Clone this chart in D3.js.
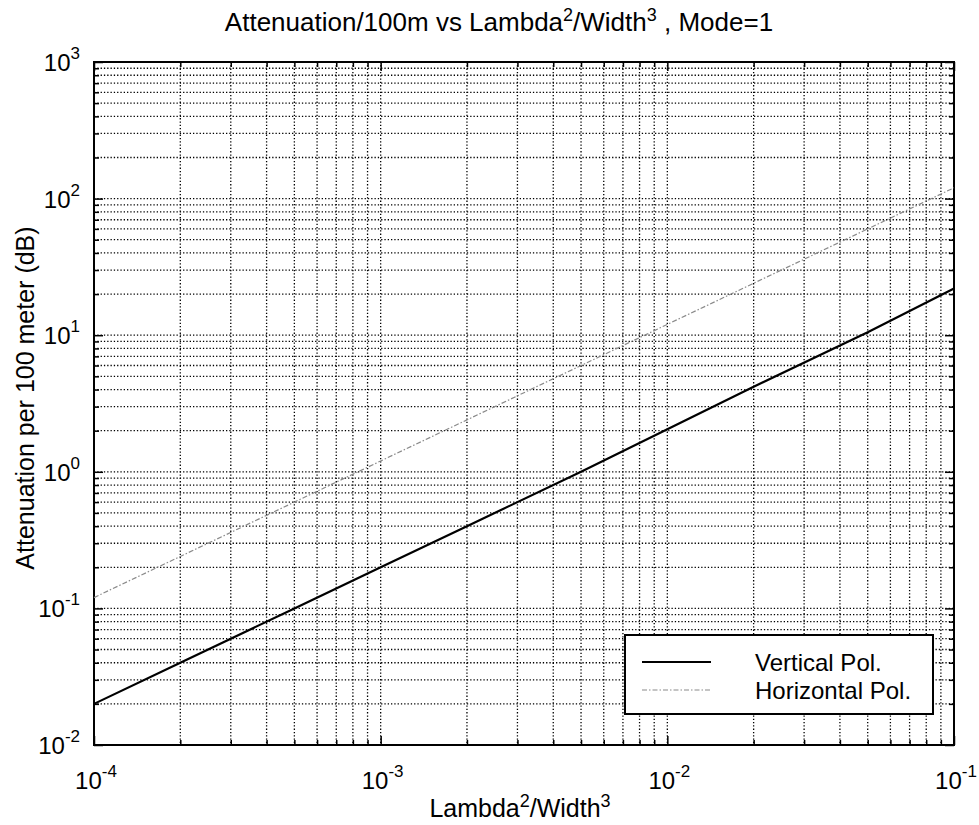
<!DOCTYPE html>
<html><head><meta charset="utf-8">
<script src="https://cdn.jsdelivr.net/npm/d3@7"></script>
<style>
html,body{margin:0;padding:0;background:#fff;}
svg{display:block;font-family:"Liberation Sans",Arial,Helvetica,sans-serif;}
</style></head>
<body><svg id="c" width="979" height="825"></svg>
<script>
// ---- data ----
const xValues = [1e-4, 2e-4, 5e-4, 1e-3, 2e-3, 5e-3, 1e-2, 2e-2, 5e-2, 1e-1];
const verticalPol = [0.02, 0.04, 0.1, 0.2, 0.4, 1.0, 2.05, 4.2, 10.5, 22];
const horizontalPol = [0.12, 0.24, 0.6, 1.2, 2.4, 6.0, 12, 24, 60, 120];
const xTickExponents = [-4, -3, -2, -1];
const yTickExponents = [-2, -1, 0, 1, 2, 3];
const seriesNames = ["Vertical Pol.", "Horizontal Pol."];
const titleParts = ["Attenuation/100m vs Lambda", "2", "/Width", "3", " , Mode=1"];
const xLabelParts = ["Lambda", "2", "/Width", "3"];
const yLabel = "Attenuation per 100 meter (dB)";

// ---- layout ----
const svg = d3.select("#c");
const L = 94, R = 954, T = 62, B = 745;
const x = d3.scaleLog().domain([1e-4, 1e-1]).range([L, R]);
const y = d3.scaleLog().domain([1e-2, 1e3]).range([B, T]);

// minor values
const minorX = [], minorY = [];
for (let e = -4; e < -1; e++) for (let m = 2; m <= 9; m++) minorX.push(m * Math.pow(10, e));
for (let e = -2; e < 3; e++) for (let m = 2; m <= 9; m++) minorY.push(m * Math.pow(10, e));
const majorX = xTickExponents.map(e => Math.pow(10, e));
const majorY = yTickExponents.map(e => Math.pow(10, e));

// grid
const grid = svg.append("g").attr("stroke", "#000").attr("stroke-width", 1.3)
  .attr("stroke-dasharray", "1.3,2").attr("fill", "none");
[...majorX.slice(1, -1), ...minorX].forEach(v => {
  grid.append("line").attr("x1", x(v)).attr("x2", x(v)).attr("y1", T).attr("y2", B);
});
[...majorY.slice(1, -1), ...minorY].forEach(v => {
  grid.append("line").attr("y1", y(v)).attr("y2", y(v)).attr("x1", L).attr("x2", R);
});

// axes (ticks inside, on all four sides) via d3 axes
function addAxis(axisGen, tx, ty) {
  const g = svg.append("g").attr("transform", `translate(${tx},${ty})`).call(axisGen);
  g.select(".domain").remove();
  g.selectAll("text").remove();
  g.selectAll("line").attr("stroke", "#000").attr("stroke-width", 1.5);
  return g;
}
addAxis(d3.axisBottom(x).tickValues(majorX).tickSizeInner(-9).tickSizeOuter(0), 0, B);
addAxis(d3.axisBottom(x).tickValues(minorX).tickSizeInner(-5).tickSizeOuter(0), 0, B);
addAxis(d3.axisTop(x).tickValues(majorX).tickSizeInner(-9).tickSizeOuter(0), 0, T);
addAxis(d3.axisTop(x).tickValues(minorX).tickSizeInner(-5).tickSizeOuter(0), 0, T);
addAxis(d3.axisLeft(y).tickValues(majorY).tickSizeInner(-9).tickSizeOuter(0), L, 0);
addAxis(d3.axisLeft(y).tickValues(minorY).tickSizeInner(-5).tickSizeOuter(0), L, 0);
addAxis(d3.axisRight(y).tickValues(majorY).tickSizeInner(-9).tickSizeOuter(0), R, 0);
addAxis(d3.axisRight(y).tickValues(minorY).tickSizeInner(-5).tickSizeOuter(0), R, 0);

// frame
svg.append("rect").attr("x", L).attr("y", T).attr("width", R - L).attr("height", B - T)
  .attr("fill", "none").attr("stroke", "#000").attr("stroke-width", 2);

// tick labels
function powLabel(g, base, exp, bs, es, raise) {
  g.append("tspan").text(base).attr("font-size", bs);
  g.append("tspan").text(exp).attr("font-size", es).attr("dy", -raise);
}
xTickExponents.forEach(e => {
  const t = svg.append("text").attr("x", x(Math.pow(10, e)) + 2).attr("y", 789)
    .attr("text-anchor", "middle").attr("fill", "#000");
  powLabel(t, "10", String(e), 24, 17, 12);
});
yTickExponents.forEach(e => {
  const t = svg.append("text").attr("x", 80).attr("y", y(Math.pow(10, e)) + 9)
    .attr("text-anchor", "end").attr("fill", "#000");
  powLabel(t, "10", String(e), 24, 17, 12);
});

// lines
const pts = (arr) => xValues.map((v, i) => [v, arr[i]]);
const line = d3.line().x(d => x(d[0])).y(d => y(d[1]));
svg.append("path").datum(pts(horizontalPol)).attr("d", line).attr("fill", "none")
  .attr("stroke", "#8a8a8a").attr("stroke-width", 1.2).attr("stroke-dasharray", "5,2,1.5,2");
svg.append("path").datum(pts(verticalPol)).attr("d", line).attr("fill", "none")
  .attr("stroke", "#000").attr("stroke-width", 2.2);

// legend
const lg = svg.append("g");
lg.append("rect").attr("x", 625).attr("y", 635).attr("width", 308).attr("height", 79)
  .attr("fill", "#fff").attr("stroke", "#000").attr("stroke-width", 2);
lg.append("line").attr("x1", 642).attr("x2", 711).attr("y1", 662).attr("y2", 662)
  .attr("stroke", "#000").attr("stroke-width", 2.2);
lg.append("line").attr("x1", 642).attr("x2", 711).attr("y1", 690).attr("y2", 690)
  .attr("stroke", "#8a8a8a").attr("stroke-width", 1.2).attr("stroke-dasharray", "5,2,1.5,2");
seriesNames.forEach((n, i) => {
  lg.append("text").attr("x", 755).attr("y", 671 + i * 28).attr("font-size", 24)
    .attr("fill", "#000").text(n);
});

// title
const tt = svg.append("text").attr("x", 499).attr("y", 31).attr("text-anchor", "middle")
  .attr("font-size", 26).attr("fill", "#000");
titleParts.forEach((p, i) => {
  const s = tt.append("tspan").text(p);
  if (i % 2 === 1) s.attr("font-size", 18).attr("dy", -10);
  else if (i > 0) s.attr("dy", 10);
});

// x label
const xl = svg.append("text").attr("x", 520).attr("y", 817).attr("text-anchor", "middle")
  .attr("font-size", 25).attr("fill", "#000");
xLabelParts.forEach((p, i) => {
  const s = xl.append("tspan").text(p);
  if (i % 2 === 1) s.attr("font-size", 18).attr("dy", -10);
  else if (i > 0) s.attr("dy", 10);
});

// y label
svg.append("text").attr("transform", "translate(34,398) rotate(-90)")
  .attr("text-anchor", "middle").attr("font-size", 25).attr("fill", "#000").text(yLabel);
</script></body></html>
